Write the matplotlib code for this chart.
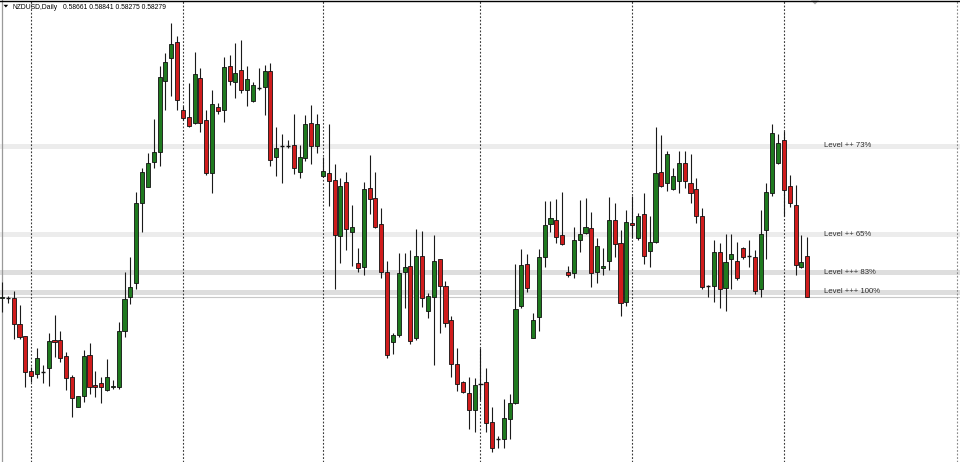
import matplotlib
matplotlib.use("Agg")
import matplotlib.pyplot as plt
from matplotlib.patches import Rectangle, Polygon
from matplotlib.collections import LineCollection

# ---------------- data ----------------
symbol = "NZDUSD,Daily"

opens = [
    0.5827, 0.5827, 0.5827, 0.5802, 0.5791, 0.5758, 0.5755, 0.5757, 0.5760, 0.5787,
    0.5787, 0.5772, 0.5752, 0.5724, 0.5734, 0.5773, 0.5744, 0.5746, 0.5740, 0.5742,
    0.5742, 0.5795, 0.5828, 0.5841, 0.5917, 0.5932, 0.5955, 0.5965, 0.6032, 0.6054,
    0.6069, 0.6005, 0.5998, 0.5992, 0.6035, 0.5995, 0.5945, 0.6007, 0.6005, 0.6046,
    0.6031, 0.6042, 0.6023, 0.6013, 0.6025, 0.6026, 0.6041, 0.5960, 0.5970, 0.5970,
    0.5971, 0.5946, 0.5959, 0.5992, 0.5970, 0.5942, 0.5945, 0.5938, 0.5885, 0.5936,
    0.5889, 0.5860, 0.5856, 0.5931, 0.5921, 0.5897, 0.5851, 0.5785, 0.5792, 0.5851,
    0.5857, 0.5789, 0.5866, 0.5814, 0.5828, 0.5864, 0.5838, 0.5806, 0.5764, 0.5747,
    0.5737, 0.5721, 0.5745, 0.5747, 0.5709, 0.5693, 0.5693, 0.5712, 0.5727, 0.5819,
    0.5859, 0.5789, 0.5809, 0.5865, 0.5897, 0.5900, 0.5886, 0.5851, 0.5850, 0.5882,
    0.5888, 0.5893, 0.5851, 0.5855, 0.5862, 0.5900, 0.5879, 0.5823, 0.5898, 0.5883,
    0.5906, 0.5871, 0.5880, 0.5946, 0.5935, 0.5930, 0.5937, 0.5954, 0.5935, 0.5930,
    0.5904, 0.5838, 0.5838, 0.5870, 0.5836, 0.5864, 0.5862, 0.5874, 0.5866, 0.5865,
    0.5835, 0.5891, 0.5926, 0.5954, 0.5976, 0.5933, 0.5915, 0.5856, 0.58661,
]
highs = [
    0.5842, 0.5829, 0.5833, 0.5820, 0.5791, 0.5761, 0.5779, 0.5763, 0.5794, 0.5811,
    0.5795, 0.5776, 0.5754, 0.5734, 0.5777, 0.5784, 0.5758, 0.5752, 0.5769, 0.5749,
    0.5804, 0.5851, 0.5865, 0.5927, 0.5950, 0.5964, 0.5996, 0.6046, 0.6058, 0.6087,
    0.6075, 0.6008, 0.6030, 0.6059, 0.6044, 0.6005, 0.6023, 0.6011, 0.6055, 0.6057,
    0.6068, 0.6071, 0.6046, 0.6031, 0.6044, 0.6047, 0.6049, 0.5988, 0.5982, 0.5976,
    0.6001, 0.5971, 0.6000, 0.6009, 0.6001, 0.5960, 0.5991, 0.5953, 0.5940, 0.5946,
    0.5915, 0.5874, 0.5936, 0.5962, 0.5946, 0.5912, 0.5862, 0.5794, 0.5869, 0.5869,
    0.5872, 0.5892, 0.5890, 0.5831, 0.5886, 0.5864, 0.5843, 0.5810, 0.5779, 0.5748,
    0.5752, 0.5751, 0.5779, 0.5760, 0.5724, 0.5696, 0.5731, 0.5736, 0.5859, 0.5873,
    0.5868, 0.5812, 0.5873, 0.5918, 0.5918, 0.5920, 0.5927, 0.5857, 0.5894, 0.5919,
    0.5921, 0.5908, 0.5883, 0.5874, 0.5922, 0.5917, 0.5891, 0.5910, 0.5923, 0.5907,
    0.5926, 0.5904, 0.5988, 0.5981, 0.5966, 0.5950, 0.5966, 0.5966, 0.5963, 0.5940,
    0.5912, 0.5839, 0.5882, 0.5879, 0.5887, 0.5887, 0.5880, 0.5875, 0.5882, 0.5872,
    0.5910, 0.5935, 0.5991, 0.5982, 0.5985, 0.5943, 0.5934, 0.5886, 0.58841,
]
lows = [
    0.5813, 0.5822, 0.5788, 0.5788, 0.5742, 0.5747, 0.5751, 0.5746, 0.5743, 0.5771,
    0.5766, 0.5740, 0.5714, 0.5724, 0.5728, 0.5736, 0.5733, 0.5727, 0.5739, 0.5741,
    0.5741, 0.5790, 0.5821, 0.5835, 0.5889, 0.5932, 0.5950, 0.5952, 0.6005, 0.6018,
    0.6005, 0.5995, 0.5988, 0.5991, 0.5984, 0.5943, 0.5926, 0.6001, 0.5993, 0.6028,
    0.6016, 0.6021, 0.6008, 0.6012, 0.6023, 0.6000, 0.5952, 0.5942, 0.5935, 0.5969,
    0.5944, 0.5940, 0.5956, 0.5953, 0.5964, 0.5941, 0.5914, 0.5835, 0.5860, 0.5872,
    0.5857, 0.5851, 0.5848, 0.5906, 0.5893, 0.5846, 0.5770, 0.5774, 0.5790, 0.5817,
    0.5783, 0.5787, 0.5818, 0.5808, 0.5763, 0.5794, 0.5799, 0.5752, 0.5739, 0.5737,
    0.5703, 0.5700, 0.5730, 0.5700, 0.5681, 0.5685, 0.5685, 0.5693, 0.5726, 0.5817,
    0.5832, 0.5789, 0.5795, 0.5856, 0.5889, 0.5879, 0.5877, 0.5847, 0.5846, 0.5870,
    0.5887, 0.5837, 0.5841, 0.5848, 0.5853, 0.5865, 0.5810, 0.5819, 0.5883, 0.5882,
    0.5859, 0.5856, 0.5879, 0.5932, 0.5928, 0.5929, 0.5926, 0.5931, 0.5917, 0.5898,
    0.5835, 0.5828, 0.5823, 0.5817, 0.5814, 0.5835, 0.5844, 0.5864, 0.5856, 0.5830,
    0.5828, 0.5864, 0.5923, 0.5953, 0.5904, 0.5913, 0.5848, 0.5855, 0.58275,
]
closes = [
    0.5828, 0.5827, 0.5802, 0.5790, 0.5757, 0.5753, 0.5770, 0.5757, 0.5786, 0.5785,
    0.5770, 0.5751, 0.5732, 0.5734, 0.5772, 0.5742, 0.5742, 0.5742, 0.5752, 0.5743,
    0.5795, 0.5826, 0.5837, 0.5917, 0.5946, 0.5954, 0.5965, 0.6036, 0.6050, 0.6067,
    0.6014, 0.5997, 0.5989, 0.6039, 0.5992, 0.5945, 0.6010, 0.6004, 0.6045, 0.6032,
    0.6040, 0.6023, 0.6034, 0.6028, 0.6025, 0.6041, 0.5957, 0.5969, 0.5970, 0.5970,
    0.5950, 0.5960, 0.5991, 0.5970, 0.5991, 0.5947, 0.5937, 0.5886, 0.5933, 0.5892,
    0.5894, 0.5855, 0.5930, 0.5920, 0.5894, 0.5851, 0.5773, 0.5792, 0.5850, 0.5856,
    0.5786, 0.5866, 0.5827, 0.5829, 0.5862, 0.5838, 0.5803, 0.5764, 0.5745, 0.5738,
    0.5721, 0.5744, 0.5745, 0.5708, 0.5685, 0.5693, 0.5713, 0.5727, 0.5816, 0.5858,
    0.5836, 0.5806, 0.5865, 0.5896, 0.5902, 0.5884, 0.5878, 0.5848, 0.5882, 0.5887,
    0.5894, 0.5850, 0.5876, 0.5857, 0.5900, 0.5878, 0.5822, 0.5899, 0.5896, 0.5904,
    0.5866, 0.5880, 0.5945, 0.5933, 0.5963, 0.5942, 0.5954, 0.5937, 0.5926, 0.5904,
    0.5837, 0.5838, 0.5870, 0.5835, 0.5861, 0.5868, 0.5846, 0.5865, 0.5866, 0.5833,
    0.5887, 0.5927, 0.5983, 0.5973, 0.5929, 0.5917, 0.5858, 0.5861, 0.58279,
]

separator_bars = [5, 31, 55, 82, 108, 134]          # first bar of each month
level_labels = ["Level ++ 73%", "Level ++ 65%", "Level +++ 83%", "Level +++ 100%"]
level_prices = [0.59705, 0.58872, 0.58508, 0.58328]
level_colors = ["#ececec", "#ececec", "#dedede", "#dedede"]

# ---------------- layout ----------------
W, H = 960, 462
BAR_PX = 5.835          # pixel spacing between bars
X0_PX = 2.0             # pixel position of bar 0
PRICE_TOP = 0.61086     # price at the top edge
PRICE_BOT = 0.56715     # price at the bottom edge

fig = plt.figure(figsize=(W / 100, H / 100), dpi=100)
fig.patch.set_facecolor("white")
ax = fig.add_axes([0, 0, 1, 1])
ax.set_xlim((0 - X0_PX) / BAR_PX, (W - X0_PX) / BAR_PX)
ax.set_ylim(PRICE_BOT, PRICE_TOP)
ax.axis("off")

xmin, xmax = ax.get_xlim()

# level bands
for p, c in zip(level_prices, level_colors):
    ax.axhline(p, color=c, lw=3.6, zorder=1)

# bid line
ax.axhline(closes[-1], color="#c8c8c8", lw=0.8, zorder=1.2)

# period separators
for b in separator_bars:
    ax.axvline(b, color="#3a3a3a", lw=0.8, ls=(0, (1.6, 1.6)), zorder=1.5)
# right-hand dotted boundary of the chart window
ax.axvline(xmin + 957 / BAR_PX, color="#8a8a8a", lw=0.8, ls=(0, (1.6, 1.6)), zorder=1.5)

# left border line
ax.axvline(xmin + 1.5 / BAR_PX, color="#9a9a9a", lw=0.9, zorder=1.4)

# candles
body_w = 0.70
wicks = [[(i, l), (i, h)] for i, (h, l) in enumerate(zip(highs, lows))]
ax.add_collection(LineCollection(wicks, colors="#1a1a1a", linewidths=0.8, zorder=2))

for i, (o, c) in enumerate(zip(opens, closes)):
    if abs(c - o) < 0.00005:
        ax.plot([i - body_w / 2, i + body_w / 2], [o, o], color="#111111", lw=1.0,
                solid_capstyle="butt", zorder=3)
        continue
    color = "#1f7a1f" if c > o else "#d01c1c"
    ax.add_patch(Rectangle((i - body_w / 2, min(o, c)), body_w, abs(c - o),
                           facecolor=color, edgecolor="#111111", lw=0.6, zorder=3))

# level labels
label_x = xmin + 823.5 / BAR_PX
for p, t in zip(level_prices, level_labels):
    ax.text(label_x, p, t, fontsize=5.6, family="Liberation Sans", color="#2e2e2e",
            va="center", ha="left", zorder=4)

# header
fig.text(12.7 / W, 1 - 9.0 / H, symbol, fontsize=4.9, family="Liberation Sans",
         color="black", va="baseline", ha="left")
fig.text(63.3 / W, 1 - 9.0 / H,
         "%.5f %.5f %.5f %.5f" % (opens[-1], highs[-1], lows[-1], closes[-1]),
         fontsize=4.9, family="Liberation Sans", color="black", va="baseline", ha="left")
fig.add_artist(Polygon([(3.5 / W, 1 - 4.8 / H), (8.2 / W, 1 - 4.8 / H), (5.85 / W, 1 - 7.5 / H)],
                       closed=True, transform=fig.transFigure, facecolor="black",
                       edgecolor="none"))

# top border
fig.add_artist(plt.Line2D([0, 1], [1 - 0.5 / H, 1 - 0.5 / H], transform=fig.transFigure,
                          color="black", lw=1.0))
# chart-shift marker
fig.add_artist(Polygon([(811 / W, 1 - 0.5 / H), (819 / W, 1 - 0.5 / H), (815 / W, 1 - 4.5 / H)],
                       closed=True, transform=fig.transFigure, facecolor="#b0b0b0",
                       edgecolor="none"))

fig.savefig("out.png", dpi=100, facecolor="white")
